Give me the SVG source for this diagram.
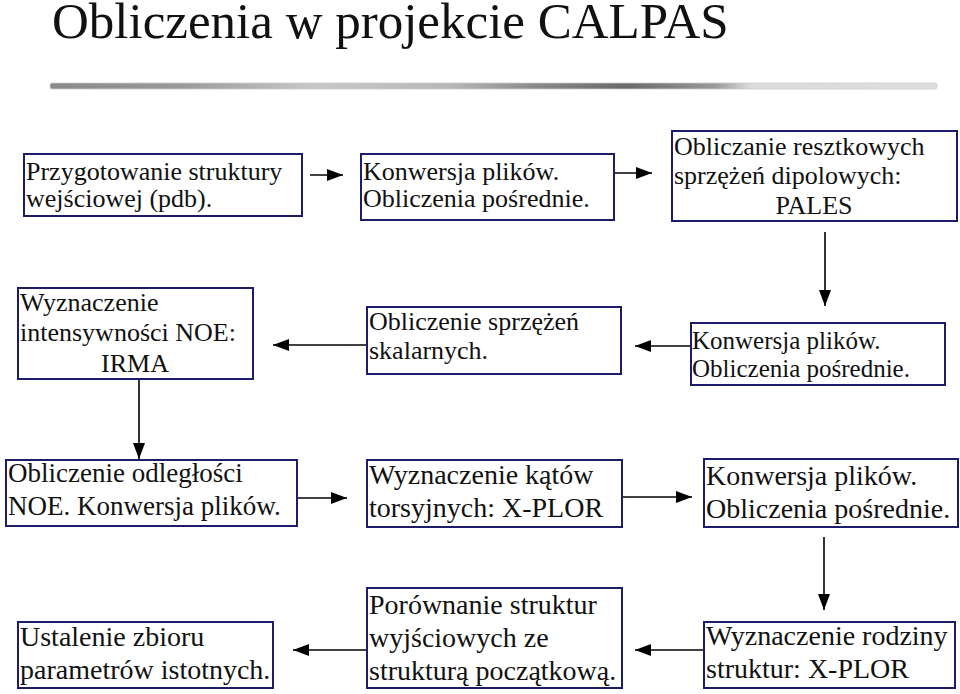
<svg xmlns="http://www.w3.org/2000/svg" width="960" height="694" viewBox="0 0 960 694">
<defs>
<style>
.box{fill:#fff;stroke:#1c1c6a;stroke-width:2}
.t{font-family:"Liberation Serif","Times New Roman",serif;fill:#111}
.s25{font-size:25px}.s26{font-size:26px}.s27{font-size:27px}.s28{font-size:28px}
.c{stroke:#000;stroke-width:1.6;fill:none;marker-end:url(#ah)}
</style>
<marker id="ah" markerUnits="userSpaceOnUse" markerWidth="16" markerHeight="12" refX="16" refY="6" orient="auto">
<path d="M0,0 L16,6 L0,12 Z" fill="#000"/>
</marker>
<linearGradient id="bar" x1="0" y1="0" x2="1" y2="0">
<stop offset="0" stop-color="#8a8a8a"/>
<stop offset="0.15" stop-color="#9a9a9a"/>
<stop offset="0.3" stop-color="#c8c8c8"/>
<stop offset="0.45" stop-color="#b8b8b8"/>
<stop offset="0.55" stop-color="#888"/>
<stop offset="0.65" stop-color="#6a6a6a"/>
<stop offset="0.75" stop-color="#9a9a9a"/>
<stop offset="0.79" stop-color="#dcdcdc"/>
<stop offset="1" stop-color="#dedede"/>
</linearGradient>
</defs>
<rect width="960" height="694" fill="#fff"/>
<text class="t" x="52" y="38" font-size="51">Obliczenia w projekcie CALPAS</text>
<rect x="50" y="83" width="887" height="6" rx="2" fill="url(#bar)" stroke="#ccc" stroke-width="0.8"/>

<g id="connectors">
<line class="c" x1="310" y1="175" x2="343" y2="175"/>
<line class="c" x1="614" y1="173" x2="652" y2="173"/>
<line class="c" x1="825" y1="232" x2="825" y2="306"/>
<line class="c" x1="691" y1="346" x2="635" y2="346"/>
<line class="c" x1="367" y1="345" x2="273" y2="345"/>
<line class="c" x1="139" y1="380" x2="139" y2="459"/>
<line class="c" x1="292" y1="498" x2="347" y2="498"/>
<line class="c" x1="615" y1="497" x2="692" y2="497"/>
<line class="c" x1="824" y1="537" x2="824" y2="610"/>
<line class="c" x1="710" y1="650" x2="635" y2="650"/>
<line class="c" x1="367" y1="650" x2="293" y2="650"/>
</g>

<g id="n1">
<rect class="box" x="24" y="154" width="278" height="62"/>
<text class="t s26" x="26" y="180">Przygotowanie struktury</text>
<text class="t s26" x="26" y="207">wejściowej (pdb).</text>
</g>
<g id="n2">
<rect class="box" x="361" y="154" width="253" height="66"/>
<text class="t s26" x="363" y="180">Konwersja plików.</text>
<text class="t s26" x="363" y="207">Obliczenia pośrednie.</text>
</g>
<g id="n3">
<rect class="box" x="672" y="131" width="285" height="90"/>
<text class="t s26" x="674" y="155">Obliczanie resztkowych</text>
<text class="t s26" x="674" y="184">sprzężeń dipolowych:</text>
<text class="t s26" x="814" y="214" text-anchor="middle">PALES</text>
</g>
<g id="n4">
<rect class="box" x="18" y="288" width="235" height="91"/>
<text class="t s26" x="20" y="311">Wyznaczenie</text>
<text class="t s26" x="20" y="341">intensywności NOE:</text>
<text class="t s26" x="135" y="372" text-anchor="middle">IRMA</text>
</g>
<g id="n5">
<rect class="box" x="367" y="307" width="254" height="67"/>
<text class="t s26" x="369" y="330">Obliczenie sprzężeń</text>
<text class="t s26" x="369" y="359">skalarnych.</text>
</g>
<g id="n6">
<rect class="box" x="691" y="323" width="254" height="62"/>
<text class="t s25" x="692" y="349">Konwersja plików.</text>
<text class="t s25" x="692" y="377">Obliczenia pośrednie.</text>
</g>
<g id="n7">
<rect class="box" x="6" y="460" width="291" height="66"/>
<text class="t s27" x="8" y="482">Obliczenie odległości</text>
<text class="t s27" x="8" y="515">NOE. Konwersja plików.</text>
</g>
<g id="n8">
<rect class="box" x="367" y="460" width="255" height="67"/>
<text class="t s28" x="369" y="484">Wyznaczenie kątów</text>
<text class="t s28" x="369" y="517">torsyjnych: X-PLOR</text>
</g>
<g id="n9">
<rect class="box" x="704" y="459" width="254" height="68"/>
<text class="t s28" x="706" y="485">Konwersja plików.</text>
<text class="t s28" x="706" y="518">Obliczenia pośrednie.</text>
</g>
<g id="n10">
<rect class="box" x="18" y="622" width="255" height="66"/>
<text class="t s28" x="20" y="646">Ustalenie zbioru</text>
<text class="t s28" x="20" y="679">parametrów istotnych.</text>
</g>
<g id="n11">
<rect class="box" x="367" y="588" width="255" height="100"/>
<text class="t s28" x="369" y="614">Porównanie struktur</text>
<text class="t s28" x="369" y="647">wyjściowych ze</text>
<text class="t s28" x="369" y="680">strukturą początkową.</text>
</g>
<g id="n12">
<rect class="box" x="704" y="622" width="251" height="66"/>
<text class="t s28" x="706" y="645">Wyznaczenie rodziny</text>
<text class="t s28" x="706" y="678">struktur: X-PLOR</text>
</g>
</svg>
